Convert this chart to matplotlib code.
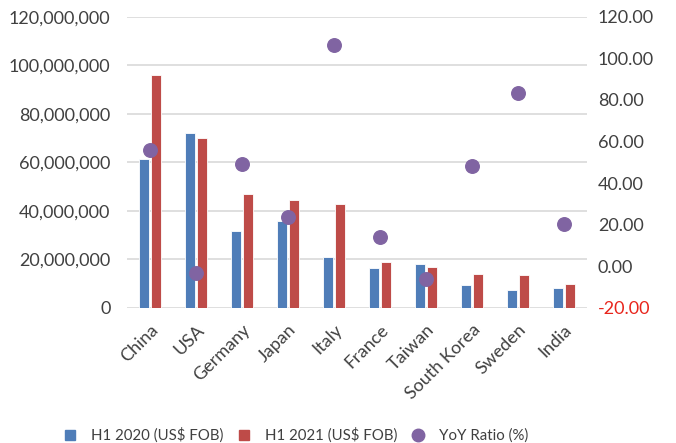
import numpy as np
import matplotlib.pyplot as plt
from matplotlib.lines import Line2D
from matplotlib.ticker import FuncFormatter

countries = ['China', 'USA', 'Germany', 'Japan', 'Italy', 'France', 'Taiwan',
             'South Korea', 'Sweden', 'India']
h1_2020 = [61.3e6, 72.3e6, 31.5e6, 35.7e6, 20.9e6, 16.5e6, 18.1e6, 9.5e6, 7.3e6, 8.1e6]
h1_2021 = [95.9e6, 70.0e6, 46.9e6, 44.3e6, 42.9e6, 18.8e6, 17.0e6, 14.0e6, 13.5e6, 9.8e6]
yoy = [56.1, -3.3, 49.4, 23.8, 106.3, 14.1, -5.9, 48.4, 83.6, 20.3]

plt.rcParams['font.family'] = ['Lato', 'DejaVu Sans']
txt = '#404040'
c1, c2, c3 = '#4F7DB8', '#BE4B48', '#8064A2'
fs = 13

fig = plt.figure(figsize=(6.76, 4.43), dpi=100)
ax = fig.add_axes([0.188, 0.305, 0.68, 0.657])
x = np.arange(len(countries))
w = 0.22
ax.bar(x - 0.135, h1_2020, w, color=c1, edgecolor='white', linewidth=0.6, zorder=2)
ax.bar(x + 0.135, h1_2021, w, color=c2, edgecolor='white', linewidth=0.6, zorder=2)
ax.set_ylim(0, 120e6)
ax.set_yticks(np.arange(0, 120e6 + 1, 20e6))
ax.yaxis.set_major_formatter(FuncFormatter(lambda v, p: f'{v:,.0f}'))
ax.grid(axis='y', color='#D9D9D9', linewidth=1.2, zorder=0)
ax.set_axisbelow(True)
ax.set_xlim(-0.5, len(countries) - 0.5)
ax.set_xticks(x)
ax.set_xticklabels(countries, rotation=45, ha='right', rotation_mode='anchor')
ax.tick_params(axis='y', length=0, labelsize=fs, colors=txt, pad=12)
ax.tick_params(axis='x', length=0, labelsize=fs, colors=txt, pad=10)
for s in ax.spines.values():
    s.set_visible(False)

ax2 = ax.twinx()
ax2.scatter(x, yoy, s=95, color=c3, zorder=3)
ax2.set_ylim(-20, 120)
ax2.set_yticks(np.arange(-20, 121, 20))
ax2.yaxis.set_major_formatter(FuncFormatter(lambda v, p: f'{v:.2f}'))
ax2.tick_params(axis='y', length=0, labelsize=fs, colors=txt, pad=8)
ax2.get_yticklabels()[0].set_color('#E8251C')
for s in ax2.spines.values():
    s.set_visible(False)

handles = [Line2D([], [], ls='', marker='s', ms=7.5, color=c1),
           Line2D([], [], ls='', marker='s', ms=7.5, color=c2),
           Line2D([], [], ls='', marker='o', ms=9, color=c3)]
labels = ['H1 2020 (US$ FOB)', 'H1 2021 (US$ FOB)', 'YoY Ratio (%)']
fig.legend(handles, labels, loc='lower center', bbox_to_anchor=(0.437, -0.03),
           ncol=3, frameon=False, fontsize=10.8, handlelength=0.93,
           handletextpad=0.93, columnspacing=0.93, labelcolor=txt)
fig.savefig('out.png', dpi=100)
